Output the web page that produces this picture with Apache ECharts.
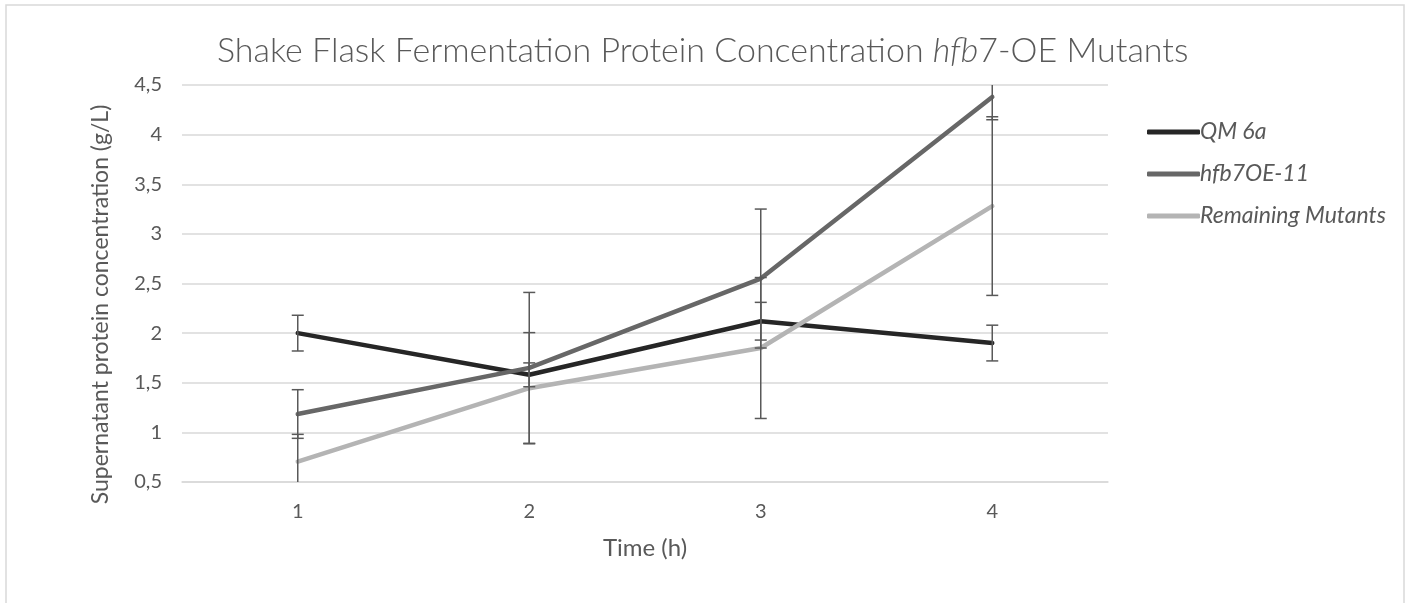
<!DOCTYPE html>
<html>
<head>
<meta charset="utf-8">
<script src="https://cdn.jsdelivr.net/npm/echarts@6/dist/echarts.min.js"></script>
<style>
  html, body { margin: 0; padding: 0; background: #fff; }
  #chart { width: 1415px; height: 603px; }
</style>
</head>
<body>
<div id="chart"></div>
<script>
// 数据
const times = ["1", "2", "3", "4"];
const qm6a = [2.0, 1.58, 2.12, 1.9];
const hfb7 = [1.185, 1.65, 2.55, 4.38];
const remaining = [0.705, 1.445, 1.85, 3.28];
// 误差 (±)
const qm6aErr = [0.18, 0.12, 0.19, 0.18];
const hfb7Err = [0.245, 0.76, 0.7, 0.23];
const remainingErr = [0.275, 0.56, 0.71, 0.9];

const textColor = "#595959";
const font = "Lato, 'Open Sans', sans-serif";

function errData(vals, errs) {
  return vals.map((v, i) => [i, v - errs[i], v + errs[i]]);
}

function renderErr(params, api) {
  const x = api.value(0);
  const top = api.coord([x, api.value(2)]);
  const bot = api.coord([x, api.value(1)]);
  const w = 6;
  const st = { stroke: "#595959", lineWidth: 1.5 };
  return {
    type: "group",
    children: [
      { type: "line", shape: { x1: top[0], y1: top[1], x2: bot[0], y2: bot[1] }, style: st },
      { type: "line", shape: { x1: top[0] - w, y1: top[1], x2: top[0] + w, y2: top[1] }, style: st },
      { type: "line", shape: { x1: bot[0] - w, y1: bot[1], x2: bot[0] + w, y2: bot[1] }, style: st },
    ],
  };
}

function lineSeries(name, data, color) {
  return {
    name: name,
    type: "line",
    data: data,
    symbol: "none",
    z: 2,
    lineStyle: { color: color, width: 4.5, cap: "round", join: "round" },
    itemStyle: { color: color },
  };
}

function errSeries(vals, errs) {
  return {
    type: "custom",
    data: errData(vals, errs),
    renderItem: renderErr,
    clip: true,
    z: 3,
    silent: true,
  };
}

const chart = echarts.init(document.getElementById("chart"));
chart.setOption({
  animation: false,
  backgroundColor: "#fff",
  graphic: [
    {
      type: "rect",
      shape: { x: 6, y: 5, width: 1398, height: 640 },
      style: { fill: "none", stroke: "#d9d9d9", lineWidth: 1.5 },
      silent: true,
    },
  ],
  title: {
    text: "Shake Flask Fermentation Protein Concentration {i|hfb}7-OE Mutants",
    left: 212,
    top: 29,
    textStyle: {
      fontFamily: font,
      fontSize: 34,
      fontWeight: 300,
      color: textColor,
      rich: {
        i: { fontFamily: font, fontSize: 34, fontWeight: 300, fontStyle: "italic", color: textColor },
      },
    },
  },
  legend: {
    data: ["QM 6a", "hfb7OE-11", "Remaining Mutants"],
    orient: "vertical",
    left: 1142,
    top: 113,
    itemWidth: 53,
    itemHeight: 5,
    itemGap: 14,
    icon: "roundRect",
    textStyle: {
      fontFamily: font,
      fontSize: 23,
      fontStyle: "italic",
      color: textColor,
      lineHeight: 28,
      padding: [0, 0, 0, -5],
    },
  },
  grid: { left: 182, right: 307, top: 85, bottom: 121 },
  xAxis: {
    type: "category",
    data: times,
    name: "Time (h)",
    nameLocation: "middle",
    nameGap: 54,
    nameTextStyle: { fontFamily: font, fontSize: 24, color: textColor },
    axisLine: { lineStyle: { color: "#d9d9d9", width: 1.5 } },
    axisTick: { show: false },
    axisLabel: { fontFamily: font, fontSize: 20, color: textColor, margin: 20 },
  },
  yAxis: {
    type: "value",
    min: 0.5,
    max: 4.5,
    interval: 0.5,
    name: "Supernatant protein concentration (g/L)",
    nameLocation: "middle",
    nameGap: 70,
    nameTextStyle: { fontFamily: font, fontSize: 23, color: textColor, padding: [0, 42, 0, 0] },
    axisLine: { show: false },
    axisTick: { show: false },
    splitLine: { lineStyle: { color: "#d9d9d9", width: 1.5 } },
    axisLabel: {
      fontFamily: font,
      fontSize: 20,
      color: textColor,
      margin: 20,
      formatter: (v) => String(v).replace(".", ","),
    },
  },
  series: [
    lineSeries("QM 6a", qm6a, "#262626"),
    lineSeries("hfb7OE-11", hfb7, "#676767"),
    lineSeries("Remaining Mutants", remaining, "#b4b4b4"),
    errSeries(qm6a, qm6aErr),
    errSeries(hfb7, hfb7Err),
    errSeries(remaining, remainingErr),
  ],
});
</script>
</body>
</html>
